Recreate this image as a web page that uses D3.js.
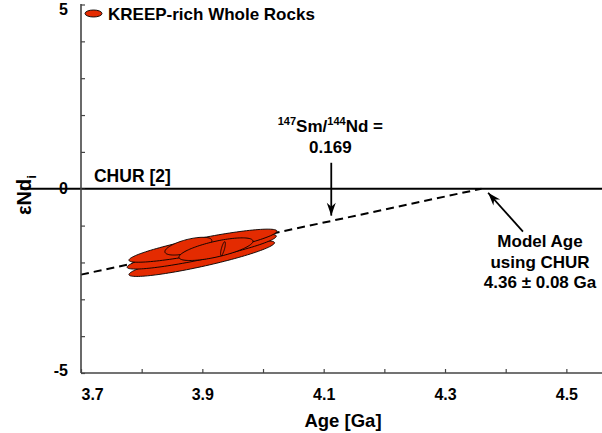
<!DOCTYPE html>
<html><head><meta charset="utf-8">
<script src="https://cdn.jsdelivr.net/npm/d3@7"></script>
<style>
body{margin:0;background:#fff;}
text{font-family:"Liberation Sans",Arial,sans-serif;font-weight:bold;fill:#000;}
</style></head>
<body><svg id="c" width="602" height="433"></svg>
<script>
// ---- data ----
const xTicks = [3.7,3.8,3.9,4.0,4.1,4.2,4.3,4.4,4.5];
const xTickLabels = ["3.7","","3.9","","4.1","","4.3","","4.5"];
const yTicks = [-5,-4,-3,-2,-1,0,1,2,3,4,5];
const yTickLabels = ["-5","","","","","0","","","","","5"];
// error ellipses: age [Ga], age 1-sigma, eps Nd, eps 1-sigma, correlation
const ellAge  = [3.899, 3.899, 3.901, 3.877, 3.9225, 3.934];
const ellSAge = [0.120, 0.123, 0.122, 0.0387, 0.061, 0.0040];
const ellEps  = [-1.897, -1.707, -1.545, -1.558, -1.640, -1.626];
const ellSEps = [0.483, 0.473, 0.449, 0.241, 0.307, 0.19];
const ellRho  = [0.894, 0.890, 0.875, 0.618, 0.706, 0.75];
const churLine = [[3.6, 0],[4.7, 0]];
const modelLine = [[3.7, -2.33],[4.36, 0]];

const W=602,H=433;
const x = d3.scaleLinear().domain([3.7,4.6]).range([81,81+0.9*606.7]);
const y = d3.scaleLinear().domain([-5,5]).range([373,4.5]);
const svg = d3.select("#c");

// lines
const l2 = d3.line().x(d=>x(d[0])).y(d=>y(d[1]));
svg.append("path").attr("d", l2(modelLine)).attr("stroke","#000").attr("stroke-width",2)
  .attr("stroke-dasharray","8,5").attr("fill","none");
svg.append("path").attr("d", l2(churLine)).attr("stroke","#000").attr("stroke-width",2).attr("fill","none");

// ellipses
const ellData = ellAge.map((a,i)=>({a, sa:ellSAge[i], e:ellEps[i], se:ellSEps[i], r:ellRho[i]}));
const line = d3.line().x(d=>x(d[0])).y(d=>y(d[1])).curve(d3.curveLinearClosed);
const thetas = d3.range(0, 2*Math.PI, Math.PI/60);
svg.append("g").selectAll("path").data(ellData).join("path")
  .attr("d", d=>line(thetas.map(t=>[d.a + d.sa*Math.cos(t), d.e + d.se*(d.r*Math.cos(t)+Math.sqrt(1-d.r*d.r)*Math.sin(t))])))
  .attr("fill","#e42b01").attr("stroke","#000").attr("stroke-width",0.9);

// axes
const axCol="#444";
const gx = svg.append("g").attr("transform",`translate(0,${y(-5)})`)
  .call(d3.axisBottom(x).tickValues(xTicks).tickSize(-4).tickFormat((d,i)=>xTickLabels[i]).tickPadding(16));
gx.select(".domain").attr("d",`M${x(3.7)},0H${W}`).attr("stroke",axCol).attr("stroke-width",1.6);
gx.selectAll(".tick line").attr("stroke",axCol).attr("stroke-width",1.2);
gx.selectAll(".tick text").style("font-size","16px").style("font-family","Liberation Sans, Arial").style("font-weight","bold").attr("fill","#000");
gx.selectAll(".tick text").filter((d,i)=>i===0).attr("text-anchor","start");

const gy = svg.append("g").attr("transform",`translate(${x(3.7)},0)`)
  .call(d3.axisLeft(y).tickValues(yTicks).tickSize(-4).tickFormat((d,i)=>yTickLabels[i]).tickPadding(13));
gy.select(".domain").attr("d",`M0,${y(5)-0.5}V${y(-5)}`).attr("stroke",axCol).attr("stroke-width",1.6);
gy.selectAll(".tick line").attr("stroke",axCol).attr("stroke-width",1.2);
gy.selectAll(".tick text").style("font-size","16px").style("font-family","Liberation Sans, Arial").style("font-weight","bold").attr("fill","#000");
gy.selectAll(".tick text").filter(d=>d===5).attr("dy","0.6em");
gy.selectAll(".tick text").filter(d=>d===-5).attr("dy","0.15em");

// axis titles
svg.append("text").attr("x",343).attr("y",427).attr("text-anchor","middle").style("font-size","18.5px").text("Age [Ga]");
const yt = svg.append("text").attr("transform","translate(31,195) rotate(-90)").attr("text-anchor","middle").style("font-size","20px");
yt.append("tspan").text("εNd");
yt.append("tspan").attr("dy",5).style("font-size","13px").text("i");

// legend
svg.append("ellipse").attr("cx",93.5).attr("cy",13.5).attr("rx",8.5).attr("ry",3.5).attr("fill","#e42b01").attr("stroke","#000").attr("stroke-width",0.9);
svg.append("text").attr("x",108).attr("y",20).style("font-size","17px").text("KREEP-rich Whole Rocks");

// annotations
svg.append("text").attr("x",x(3.7214)).attr("y",y(0.19)).style("font-size","17.5px").text("CHUR [2]");

const t1 = svg.append("text").attr("x",x(4.111)).attr("y",y(1.545)).attr("text-anchor","middle").style("font-size","17px");
t1.append("tspan").attr("dy",-7).style("font-size","11px").text("147");
t1.append("tspan").attr("dy",7).text("Sm/");
t1.append("tspan").attr("dy",-7).style("font-size","11px").text("144");
t1.append("tspan").attr("dy",7).text("Nd =");
svg.append("text").attr("x",x(4.111)).attr("y",y(0.976)).attr("text-anchor","middle").style("font-size","17px").text("0.169");

const ma = ["Model Age","using CHUR","4.36 ± 0.08 Ga"];
const maY = [-1.572,-2.141,-2.683];
svg.append("g").selectAll("text").data(ma).join("text")
  .attr("x",x(4.4566)).attr("y",(d,i)=>y(maY[i])).attr("text-anchor","middle").style("font-size","17px").text(d=>d);

function arrow(x1,y1,x2,y2){
  svg.append("line").attr("x1",x1).attr("y1",y1).attr("x2",x2).attr("y2",y2).attr("stroke","#000").attr("stroke-width",1.8);
  const ang = Math.atan2(y2-y1,x2-x1), L=13, w=4.5, n=9;
  const ux=Math.cos(ang), uy=Math.sin(ang), px=-uy, py=ux;
  const p = [[x2,y2],[x2-L*ux+w*px,y2-L*uy+w*py],[x2-n*ux,y2-n*uy],[x2-L*ux-w*px,y2-L*uy-w*py]];
  svg.append("path").attr("d","M"+p.map(q=>q.join(",")).join("L")+"Z").attr("fill","#000");
}
arrow(x(4.1125), y(0.705), x(4.1125), y(-0.73));
arrow(x(4.4285), y(-1.165), x(4.371), y(-0.108));
</script></body></html>
